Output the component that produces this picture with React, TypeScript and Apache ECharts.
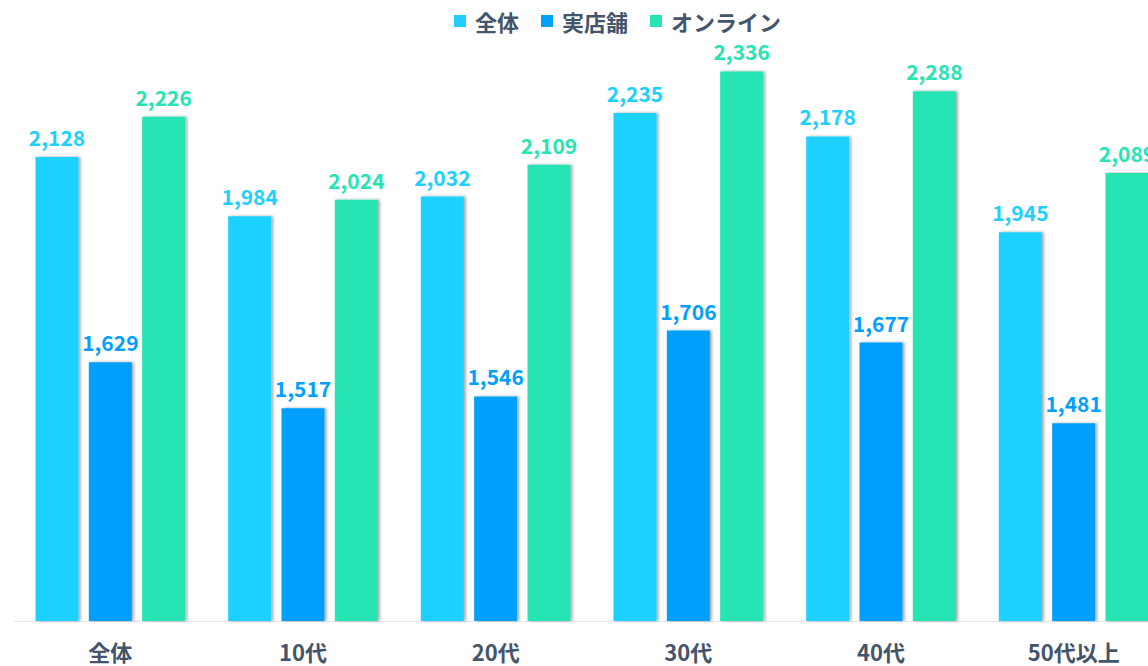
import React, { useEffect, useRef } from "react";
import * as echarts from "echarts";

const categories = ["全体", "10代", "20代", "30代", "40代", "50代以上"];
const seriesNames = ["全体", "実店舗", "オンライン"];
const totalValues = [2128, 1984, 2032, 2235, 2178, 1945];
const storeValues = [1629, 1517, 1546, 1706, 1677, 1481];
const onlineValues = [2226, 2024, 2109, 2336, 2288, 2089];
const colors = ["#1fd0ff", "#039ffc", "#27e4b4"];

const FONT = "'Noto Sans CJK JP', 'Noto Sans', sans-serif";

export default function App() {
  const ref = useRef<HTMLDivElement>(null);
  useEffect(() => {
    if (!ref.current) return;
    const chart = echarts.init(ref.current, undefined, { renderer: "svg" });
    const data = [totalValues, storeValues, onlineValues];
    chart.setOption({
      animation: false,
      textStyle: { fontFamily: FONT },
      legend: {
        top: 10,
        left: 454,
        padding: 0,
        itemWidth: 12,
        itemHeight: 12,
        itemGap: 22,
        icon: "rect",
        textStyle: {
          color: "#44546a",
          fontSize: 22,
          lineHeight: 22,
          fontWeight: "bold",
          fontFamily: FONT,
          padding: [0, 0, 0, 4],
        },
        data: seriesNames,
      },
      grid: { left: 14, right: 0, top: 4, bottom: 45, containLabel: false },
      xAxis: {
        type: "category",
        data: categories,
        axisLine: { lineStyle: { color: "#e3e7ec", width: 1 } },
        axisTick: { show: false },
        axisLabel: {
          color: "#44546a",
          fontSize: 22,
          lineHeight: 22,
          fontWeight: "bold",
          margin: 19,
          fontFamily: FONT,
        },
      },
      yAxis: {
        type: "value",
        min: 1000,
        max: 2500,
        show: false,
        splitLine: { show: false },
      },
      series: seriesNames.map((name, i) => ({
        name,
        type: "bar",
        data: data[i],
        barWidth: 43,
        barGap: "24%",
        itemStyle: {
          color: colors[i],
          shadowColor: "rgba(0,0,0,0.35)",
          shadowBlur: 3,
          shadowOffsetX: 2,
          shadowOffsetY: 0,
        },
        label: {
          show: true,
          position: "top",
          distance: 9,
          color: colors[i],
          fontSize: 21,
          lineHeight: 22,
          fontWeight: "bold",
          fontFamily: FONT,
          formatter: (p: any) => Number(p.value).toLocaleString("en-US"),
        },
      })),
    });
    return () => chart.dispose();
  }, []);
  return (
    <div
      style={{
        position: "absolute",
        left: 0,
        top: 0,
        width: 1148,
        height: 666,
        overflow: "hidden",
      }}
    >
      <div ref={ref} style={{ width: 1170, height: 666 }} />
    </div>
  );
}
